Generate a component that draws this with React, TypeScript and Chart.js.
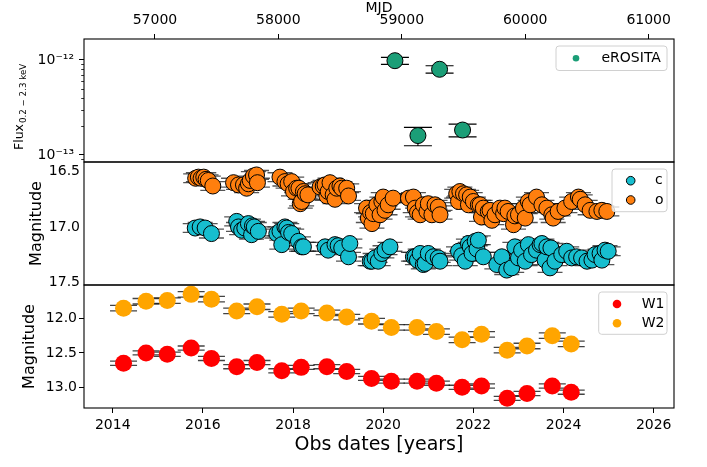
import React, { useEffect, useRef } from 'react';
import { Chart, registerables } from 'chart.js';

Chart.register(...registerables);

const FONT = "'DejaVu Sans', 'Liberation Sans', sans-serif";

// ---------- shared x axis ----------
const YEAR_MIN = 2013.363;
const YEAR_MAX = 2026.45;
const YEAR_TICKS = [2014, 2016, 2018, 2020, 2022, 2024, 2026];
const MJD_TICKS = [57000, 58000, 59000, 60000, 61000];
const toMJD = (y: number) => 51544.5 + (y - 2000) * 365.25;

// ---------- eROSITA panel ----------
const FLUX_MIN = 8.43e-14;
const FLUX_MAX = 1.663e-12;
const FLUX_MAJOR = [1e-13, 1e-12];
const FLUX_MINOR = [9e-14, 2e-13, 3e-13, 4e-13, 5e-13, 6e-13, 7e-13, 8e-13, 9e-13];
const ERO_YEAR = [2020.26, 2020.77, 2021.25, 2021.76];
const ERO_FLUX = [9.83e-13, 1.6e-13, 7.98e-13, 1.83e-13];
const ERO_ERR = [0.83e-13, 0.35e-13, 0.71e-13, 0.28e-13];

// ---------- ATLAS panel ----------
const ATLAS_MIN = 16.413;
const ATLAS_MAX = 17.525;
const ATLAS_TICKS = [16.5, 17.0, 17.5];
const ATLAS_ERR = 0.04;

const C_YEAR = [
  2015.83, 2015.94, 2016.05, 2016.19,
  2016.75, 2016.79, 2016.86, 2016.93, 2017.01, 2017.08, 2017.10, 2017.14, 2017.23,
  2017.64, 2017.71, 2017.75, 2017.82, 2017.86, 2017.90, 2017.97, 2018.12, 2018.19, 2018.23,
  2018.71, 2018.78, 2018.93, 2019.00, 2019.08, 2019.23, 2019.26,
  2019.71, 2019.75, 2019.82, 2019.89, 2019.97, 2020.04, 2020.15,
  2020.67, 2020.71, 2020.76, 2020.82, 2020.89, 2020.93, 2021.00, 2021.11, 2021.22, 2021.26,
  2021.67, 2021.74, 2021.82, 2021.89, 2021.93, 2021.97, 2022.04, 2022.08, 2022.11, 2022.22,
  2022.52, 2022.63, 2022.74, 2022.85, 2022.92, 2023.00, 2023.07, 2023.15, 2023.22, 2023.29, 2023.40,
  2023.48, 2023.52, 2023.59, 2023.63, 2023.70, 2023.72, 2023.81, 2023.96, 2024.07, 2024.18, 2024.29, 2024.40,
  2024.52, 2024.63, 2024.70, 2024.81, 2024.85, 2024.92, 2024.99,
];
const C_MAG = [
  17.01, 17.00, 17.01, 17.06,
  16.95, 17.00, 17.03, 17.01, 16.97, 17.07, 16.99, 17.00, 17.04,
  17.06, 17.04, 17.16, 17.00, 17.01, 17.05, 17.06, 17.13, 17.18, 17.18,
  17.18, 17.21, 17.16, 17.17, 17.19, 17.27, 17.15,
  17.31, 17.31, 17.28, 17.31, 17.24, 17.21, 17.18,
  17.27, 17.27, 17.30, 17.24, 17.34, 17.33, 17.24, 17.27, 17.28, 17.31,
  17.22, 17.26, 17.31, 17.15, 17.18, 17.24, 17.13, 17.20, 17.12, 17.27,
  17.34, 17.27, 17.39, 17.37, 17.18, 17.28, 17.21, 17.31, 17.16, 17.25, 17.21,
  17.16, 17.15, 17.30, 17.18, 17.37, 17.19, 17.31, 17.25, 17.22, 17.28, 17.27, 17.28,
  17.31, 17.30, 17.25, 17.24, 17.30, 17.21, 17.22,
];

const O_YEAR = [
  2015.84, 2015.90, 2015.96, 2016.02, 2016.07, 2016.12, 2016.22,
  2016.68, 2016.79, 2016.90, 2016.97, 2017.01, 2017.05, 2017.12, 2017.19, 2017.21,
  2017.71, 2017.82, 2017.89, 2017.97, 2018.01, 2018.08, 2018.13, 2018.16, 2018.19, 2018.23, 2018.27, 2018.33,
  2018.60, 2018.67, 2018.71, 2018.75, 2018.78, 2018.82, 2018.89, 2018.93, 2018.97, 2019.04, 2019.08, 2019.19, 2019.23,
  2019.63, 2019.67, 2019.72, 2019.75, 2019.78, 2019.86, 2019.93, 2019.97, 2020.00, 2020.04, 2020.11, 2020.22,
  2020.56, 2020.67, 2020.71, 2020.76, 2020.82, 2020.89, 2020.97, 2021.00, 2021.08, 2021.15, 2021.22, 2021.26,
  2021.63, 2021.67, 2021.70, 2021.78, 2021.85, 2021.89, 2021.93, 2022.00, 2022.11, 2022.15, 2022.18, 2022.22, 2022.33, 2022.37, 2022.41, 2022.48,
  2022.59, 2022.67, 2022.70, 2022.77, 2022.89, 2022.92, 2023.00, 2023.11, 2023.15, 2023.22, 2023.26, 2023.40,
  2023.52, 2023.63, 2023.74, 2023.77, 2023.88, 2024.03, 2024.18, 2024.33, 2024.37,
  2024.48, 2024.59, 2024.74, 2024.85, 2024.96,
];
const O_MAG = [
  16.56, 16.55, 16.56, 16.55, 16.57, 16.58, 16.63,
  16.60, 16.62, 16.62, 16.65, 16.61, 16.58, 16.54, 16.53, 16.60,
  16.55, 16.59, 16.61, 16.59, 16.68, 16.65, 16.65, 16.79, 16.77, 16.68, 16.70, 16.71,
  16.64, 16.63, 16.62, 16.72, 16.68, 16.60, 16.71, 16.75, 16.65, 16.63, 16.65, 16.65, 16.72,
  16.83, 16.92, 16.87, 16.97, 16.88, 16.80, 16.89, 16.77, 16.73, 16.85, 16.80, 16.74,
  16.74, 16.73, 16.83, 16.87, 16.89, 16.80, 16.86, 16.79, 16.89, 16.80, 16.82, 16.89,
  16.70, 16.77, 16.68, 16.70, 16.71, 16.80, 16.73, 16.77, 16.80, 16.80, 16.91, 16.83, 16.86, 16.85, 16.94, 16.89,
  16.83, 16.88, 16.83, 16.86, 16.98, 16.90, 16.89, 16.83, 16.92, 16.77, 16.80, 16.73,
  16.80, 16.83, 16.89, 16.92, 16.86, 16.83, 16.77, 16.73, 16.75,
  16.80, 16.85, 16.86, 16.85, 16.86,
];

// ---------- WISE panel ----------
const WISE_MIN = 11.514;
const WISE_MAX = 13.3;
const WISE_TICKS = [12.0, 12.5, 13.0];
const W_YEAR = [
  2014.24, 2014.74, 2015.21, 2015.74, 2016.19, 2016.75, 2017.2, 2017.75, 2018.18, 2018.75, 2019.19,
  2019.74, 2020.18, 2020.75, 2021.18, 2021.75, 2022.18, 2022.75, 2023.19, 2023.75, 2024.17,
];
const W1_MAG = [
  12.65, 12.5, 12.52, 12.43, 12.58, 12.7, 12.64, 12.76, 12.71, 12.7, 12.77,
  12.87, 12.91, 12.91, 12.94, 13.0, 12.98, 13.16, 13.09, 12.98, 13.07,
];
const W2_MAG = [
  11.85, 11.75, 11.74, 11.65, 11.72, 11.89, 11.83, 11.94, 11.89, 11.92, 11.98,
  12.04, 12.13, 12.13, 12.19, 12.31, 12.23, 12.46, 12.4, 12.25, 12.37,
];
const W1_ERR = 0.03;
const W2_ERR = 0.04;

const COL_ERO = '#1b9e77';
const COL_C = '#17becf';
const COL_O = '#ff7f0e';
const COL_W1 = '#ff0000';
const COL_W2 = '#ffa500';

// ---------- helpers ----------
const pts = (xs: number[], ys: number[]) => xs.map((x, i) => ({ x, y: ys[i] }));

const fixAxis = (width?: number, height?: number) => (scale: any) => {
  if (width !== undefined) scale.width = width;
  if (height !== undefined) scale.height = height;
  scale.paddingTop = 0;
  scale.paddingBottom = 0;
  scale.paddingLeft = 0;
  scale.paddingRight = 0;
};
const setTicks = (values: number[]) => (scale: any) => {
  scale.ticks = values.map((v) => ({ value: v }));
};

const SUP: Record<string, string> = {
  '-': '\u207B', '0': '\u2070', '1': '\u00B9', '2': '\u00B2', '3': '\u00B3', '4': '\u2074',
  '5': '\u2075', '6': '\u2076', '7': '\u2077', '8': '\u2078', '9': '\u2079',
};
const logLabel = (v: any) => {
  const e = String(Math.round(Math.log10(Number(v))));
  return '10' + e.split('').map((ch) => SUP[ch] || ch).join('');
};

const tickGrid = { display: true, drawOnChartArea: false, drawTicks: true, tickLength: 5, color: '#000', lineWidth: 1 };
const noGrid = { display: false, drawOnChartArea: false, drawTicks: false, tickLength: 0 };
const tickFont = { family: FONT, size: 14 };

// ---------- plugins ----------
const errorBarPlugin = {
  id: 'errbars',
  beforeDatasetsDraw(chart: any, _a: any, opts: any) {
    if (!opts || !opts.sets) return;
    const { ctx, chartArea: a } = chart;
    ctx.save();
    ctx.beginPath();
    ctx.rect(a.left, a.top, a.right - a.left, a.bottom - a.top);
    ctx.clip();
    opts.sets.forEach((s: any) => {
      const ds = chart.data.datasets[s.dataset];
      const xs = chart.scales.x;
      const ys = chart.scales.y;
      ctx.strokeStyle = s.color;
      ctx.lineWidth = s.width;
      ds.data.forEach((p: any, j: number) => {
        const err = Array.isArray(s.err) ? s.err[j] : s.err;
        const px = xs.getPixelForValue(p.x);
        const y1 = ys.getPixelForValue(p.y - err);
        const y2 = ys.getPixelForValue(p.y + err);
        ctx.beginPath();
        ctx.moveTo(px, y1);
        ctx.lineTo(px, y2);
        ctx.moveTo(px - s.cap, y1);
        ctx.lineTo(px + s.cap, y1);
        ctx.moveTo(px - s.cap, y2);
        ctx.lineTo(px + s.cap, y2);
        ctx.stroke();
      });
    });
    ctx.restore();
  },
};

const framePlugin = {
  id: 'frame',
  afterDatasetsDraw(chart: any) {
    const { ctx, chartArea: a } = chart;
    ctx.save();
    ctx.strokeStyle = '#000';
    ctx.lineWidth = 1.1;
    ctx.strokeRect(a.left, a.top, a.right - a.left, a.bottom - a.top);
    ctx.restore();
  },
};

const minorTickPlugin = {
  id: 'minorTicks',
  afterDraw(chart: any, _a: any, opts: any) {
    if (!opts || !opts.values) return;
    const { ctx, chartArea: a } = chart;
    const s = chart.scales[opts.axis];
    ctx.save();
    ctx.strokeStyle = '#000';
    ctx.lineWidth = 0.8;
    opts.values.forEach((v: number) => {
      const py = Math.round(s.getPixelForValue(v)) + 0.5;
      if (py < a.top || py > a.bottom) return;
      ctx.beginPath();
      ctx.moveTo(a.left - opts.length, py);
      ctx.lineTo(a.left, py);
      ctx.stroke();
    });
    ctx.restore();
  },
};

const boxLegendPlugin = {
  id: 'boxLegend',
  afterDraw(chart: any, _a: any, o: any) {
    if (!o || !o.items) return;
    const { ctx, chartArea: a } = chart;
    const right = a.right - 7;
    const top = a.top + 7;
    const left = right - o.width;
    const h = o.height;
    const r = 3;
    ctx.save();
    ctx.beginPath();
    ctx.moveTo(left + r, top);
    ctx.lineTo(right - r, top);
    ctx.arcTo(right, top, right, top + r, r);
    ctx.lineTo(right, top + h - r);
    ctx.arcTo(right, top + h, right - r, top + h, r);
    ctx.lineTo(left + r, top + h);
    ctx.arcTo(left, top + h, left, top + h - r, r);
    ctx.lineTo(left, top + r);
    ctx.arcTo(left, top, left + r, top, r);
    ctx.closePath();
    ctx.fillStyle = 'rgba(255,255,255,0.8)';
    ctx.fill();
    ctx.strokeStyle = '#d0d0d0';
    ctx.lineWidth = 1;
    ctx.stroke();
    o.items.forEach((it: any, k: number) => {
      const cy = top + o.rows[k];
      ctx.beginPath();
      ctx.arc(left + o.markerX, cy, o.r, 0, Math.PI * 2);
      ctx.fillStyle = it.color;
      ctx.fill();
      if (o.edge) {
        ctx.strokeStyle = '#000';
        ctx.lineWidth = 1;
        ctx.stroke();
      }
      ctx.fillStyle = '#000';
      ctx.font = `14px ${FONT}`;
      ctx.textBaseline = 'middle';
      ctx.textAlign = 'left';
      ctx.fillText(it.label, left + o.textX, cy);
    });
    ctx.restore();
  },
};

const fluxTitlePlugin = {
  id: 'fluxTitle',
  afterDraw(chart: any) {
    const { ctx } = chart;
    ctx.save();
    ctx.translate(20, 150);
    ctx.rotate(-Math.PI / 2);
    ctx.fillStyle = '#000';
    ctx.textBaseline = 'middle';
    ctx.textAlign = 'left';
    ctx.font = `12.5px ${FONT}`;
    ctx.fillText('Flux', 0, 0);
    const w = ctx.measureText('Flux').width;
    ctx.font = `8.7px ${FONT}`;
    ctx.fillText('0.2 \u2212 2.3 keV', w + 1, 3.5);
    ctx.restore();
  },
};

const baseOptions = (padding: any) => ({
  responsive: false,
  animation: false as const,
  events: [] as any[],
  devicePixelRatio: 1,
  layout: { padding, autoPadding: false },
});

function topConfig(): any {
  return {
    type: 'scatter',
    data: {
      datasets: [
        {
          label: 'eROSITA',
          data: pts(ERO_YEAR, ERO_FLUX),
          xAxisID: 'x',
          yAxisID: 'y',
          backgroundColor: COL_ERO,
          borderColor: '#000',
          borderWidth: 1,
          pointRadius: 8,
          pointHoverRadius: 8,
        },
      ],
    },
    options: {
      ...baseOptions({ left: 0, right: 33, top: 0, bottom: 2 }),
      plugins: {
        legend: { display: false },
        tooltip: { enabled: false },
        errbars: { sets: [{ dataset: 0, err: ERO_ERR, cap: 14, color: '#000', width: 1.1 }] },
        minorTicks: { axis: 'y', values: FLUX_MINOR, length: 2.8 },
        boxLegend: {
          items: [{ label: 'eROSITA', color: COL_ERO }],
          width: 111, height: 24.5, rows: [12.3], markerX: 20, textX: 45.5, r: 3.3, edge: false,
        },
      },
      scales: {
        x: { type: 'linear', display: false, min: YEAR_MIN, max: YEAR_MAX },
        mjd: {
          type: 'linear', axis: 'x', position: 'top',
          min: toMJD(YEAR_MIN), max: toMJD(YEAR_MAX),
          afterBuildTicks: setTicks(MJD_TICKS),
          afterFit: fixAxis(undefined, 39),
          grid: tickGrid,
          border: { display: false },
          ticks: { callback: (v: any) => String(v), font: tickFont, color: '#000', padding: 5, maxRotation: 0, autoSkip: false },
          title: { display: true, text: 'MJD', color: '#000', font: { family: FONT, size: 14, lineHeight: 1 }, padding: { top: 1, bottom: 0 } },
        },
        y: {
          type: 'logarithmic', position: 'left',
          min: FLUX_MIN, max: FLUX_MAX,
          afterBuildTicks: setTicks(FLUX_MAJOR),
          afterFit: fixAxis(84),
          grid: tickGrid,
          border: { display: false },
          ticks: { callback: logLabel, font: tickFont, color: '#000', padding: 5, autoSkip: false },
        },
      },
    },
    plugins: [errorBarPlugin, framePlugin, minorTickPlugin, boxLegendPlugin, fluxTitlePlugin],
  };
}

function midConfig(): any {
  const mk = (label: string, xs: number[], ys: number[], color: string) => ({
    label, data: pts(xs, ys), xAxisID: 'x', yAxisID: 'y',
    backgroundColor: color, borderColor: '#000', borderWidth: 1, pointRadius: 8, pointHoverRadius: 8,
  });
  return {
    type: 'scatter',
    data: { datasets: [mk('c', C_YEAR, C_MAG, COL_C), mk('o', O_YEAR, O_MAG, COL_O)] },
    options: {
      ...baseOptions({ left: 0, right: 33, top: 2, bottom: 2 }),
      plugins: {
        legend: { display: false },
        tooltip: { enabled: false },
        errbars: {
          sets: [
            { dataset: 0, err: ATLAS_ERR, cap: 12.5, color: 'rgba(30,30,30,0.75)', width: 1.3 },
            { dataset: 1, err: ATLAS_ERR, cap: 12.5, color: 'rgba(30,30,30,0.75)', width: 1.3 },
          ],
        },
        boxLegend: {
          items: [{ label: 'c', color: COL_C }, { label: 'o', color: COL_O }],
          width: 55, height: 42.7, rows: [11.7, 31], markerX: 18.7, textX: 43, r: 4.3, edge: true,
        },
      },
      scales: {
        x: { type: 'linear', display: false, min: YEAR_MIN, max: YEAR_MAX },
        y: {
          type: 'linear', position: 'left', reverse: true,
          min: ATLAS_MIN, max: ATLAS_MAX,
          afterBuildTicks: setTicks(ATLAS_TICKS),
          afterFit: fixAxis(84),
          grid: noGrid,
          border: { display: false },
          ticks: { callback: (v: any) => Number(v).toFixed(1), font: tickFont, color: '#000', padding: 4, autoSkip: false },
          title: { display: true, text: 'Magnitude', color: '#000', font: { family: FONT, size: 16 }, padding: { top: 27, bottom: 0 } },
        },
      },
    },
    plugins: [errorBarPlugin, framePlugin, boxLegendPlugin],
  };
}

function botConfig(): any {
  const mk = (label: string, ys: number[], color: string) => ({
    label, data: pts(W_YEAR, ys), xAxisID: 'x', yAxisID: 'y',
    backgroundColor: color, borderColor: color, borderWidth: 0, pointRadius: 8.5, pointHoverRadius: 8.5,
  });
  return {
    type: 'scatter',
    data: { datasets: [mk('W1', W1_MAG, COL_W1), mk('W2', W2_MAG, COL_W2)] },
    options: {
      ...baseOptions({ left: 0, right: 33, top: 2, bottom: 0 }),
      plugins: {
        legend: { display: false },
        tooltip: { enabled: false },
        errbars: {
          sets: [
            { dataset: 0, err: W1_ERR, cap: 13.5, color: 'rgba(20,20,20,0.8)', width: 1.3 },
            { dataset: 1, err: W2_ERR, cap: 13.5, color: 'rgba(20,20,20,0.8)', width: 1.3 },
          ],
        },
        boxLegend: {
          items: [{ label: 'W1', color: COL_W1 }, { label: 'W2', color: COL_W2 }],
          width: 68.3, height: 42.3, rows: [12, 31.3], markerX: 18.3, textX: 43, r: 4.3, edge: false,
        },
      },
      scales: {
        x: {
          type: 'linear', position: 'bottom', min: YEAR_MIN, max: YEAR_MAX,
          afterBuildTicks: setTicks(YEAR_TICKS),
          afterFit: fixAxis(undefined, 59),
          grid: tickGrid,
          border: { display: false },
          ticks: { callback: (v: any) => String(v), font: tickFont, color: '#000', padding: 4, maxRotation: 0, autoSkip: false },
          title: { display: true, text: 'Obs dates [years]', color: '#000', font: { family: FONT, size: 19 }, padding: { top: 0, bottom: 11 } },
        },
        y: {
          type: 'linear', position: 'left', reverse: true,
          min: WISE_MIN, max: WISE_MAX,
          afterBuildTicks: setTicks(WISE_TICKS),
          afterFit: fixAxis(84),
          grid: tickGrid,
          border: { display: false },
          ticks: { callback: (v: any) => Number(v).toFixed(1), font: tickFont, color: '#000', padding: 2, autoSkip: false },
          title: { display: true, text: 'Magnitude', color: '#000', font: { family: FONT, size: 16 }, padding: { top: 20, bottom: 0 } },
        },
      },
    },
    plugins: [errorBarPlugin, framePlugin, boxLegendPlugin],
  };
}

export default function App() {
  const r1 = useRef<HTMLCanvasElement>(null);
  const r2 = useRef<HTMLCanvasElement>(null);
  const r3 = useRef<HTMLCanvasElement>(null);

  useEffect(() => {
    Chart.defaults.font.family = FONT;
    Chart.defaults.color = '#000';
    const charts = [
      new Chart(r1.current as HTMLCanvasElement, topConfig()),
      new Chart(r2.current as HTMLCanvasElement, midConfig()),
      new Chart(r3.current as HTMLCanvasElement, botConfig()),
    ];
    return () => charts.forEach((c) => c.destroy());
  }, []);

  const cs = (top: number, h: number): React.CSSProperties => ({
    position: 'absolute', left: 0, top, width: 707, height: h, display: 'block',
  });

  return (
    <div style={{ position: 'fixed', left: 0, top: 0, width: 707, height: 467, background: '#fff', overflow: 'hidden' }}>
      <canvas ref={r1} width={707} height={164} style={cs(0, 164)} />
      <canvas ref={r2} width={707} height={127} style={cs(160, 127)} />
      <canvas ref={r3} width={707} height={184} style={cs(283, 184)} />
    </div>
  );
}
